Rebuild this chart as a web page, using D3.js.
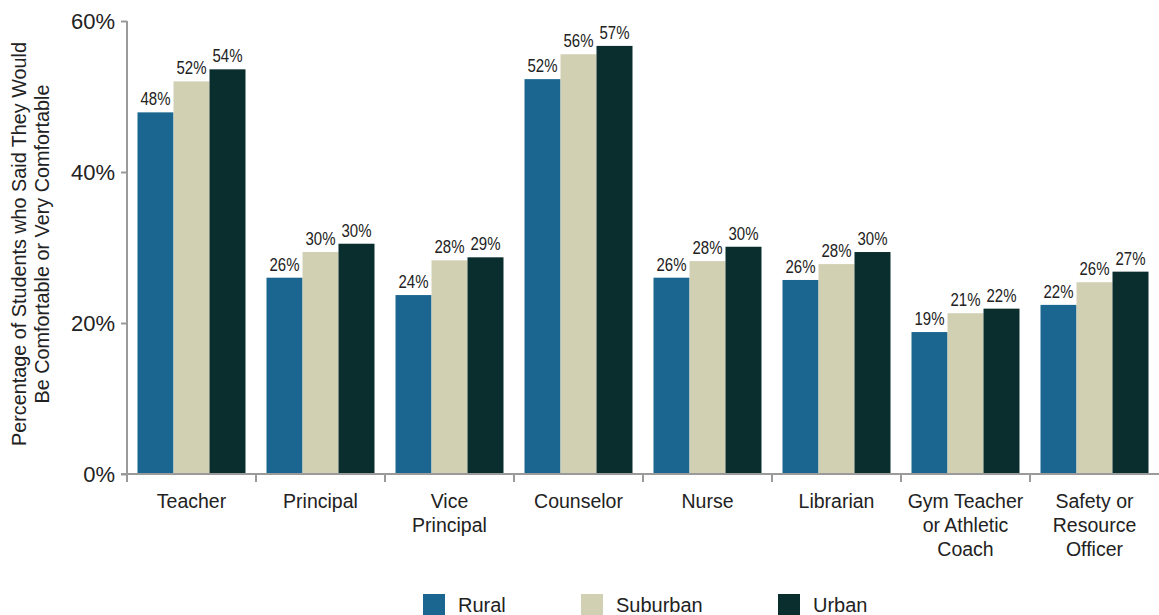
<!DOCTYPE html>
<html><head><meta charset="utf-8">
<script src="https://cdn.jsdelivr.net/npm/d3@7"></script>
<style>body{margin:0;background:#fff;}svg{display:block;}</style>
</head><body><svg id="c" width="1159" height="615"></svg>
<script>
const categories = [["Teacher"],["Principal"],["Vice","Principal"],["Counselor"],["Nurse"],["Librarian"],["Gym Teacher","or Athletic","Coach"],["Safety or","Resource","Officer"]];
const seriesNames = ["Rural","Suburban","Urban"];
const rural    = [48,26,24,52,26,26,19,22];
const suburban = [52,30,28,56,28,28,21,26];
const urban    = [54,30,29,57,30,30,22,27];
const ruralH    = [47.9,26.0,23.7,52.3,26.0,25.7,18.8,22.4];
const suburbanH = [52.0,29.4,28.3,55.6,28.2,27.8,21.3,25.4];
const urbanH    = [53.6,30.5,28.7,56.7,30.1,29.4,21.9,26.8];
const yTicks = [0,20,40,60];
const colors = ["#1b6690","#d1d0b3","#0a2e2e"];

const svg = d3.select("#c");
const x0 = d3.scaleBand().domain(d3.range(categories.length)).range([127,1159]).padding(0);
const x1 = d3.scaleBand().domain(seriesNames).range([10.5, x0.bandwidth()-10.5]).padding(0);
const y = d3.scaleLinear().domain([0,60]).range([474,21]);

const heights = [ruralH, suburbanH, urbanH];
const labels = [rural, suburban, urban];

// bars
seriesNames.forEach((s,si)=>{
  const g = svg.append("g");
  categories.forEach((c,ci)=>{
    const bx = x0(ci)+x1(s);
    g.append("rect").attr("x",bx).attr("y",y(heights[si][ci]))
      .attr("width",x1.bandwidth()).attr("height",y(0)-y(heights[si][ci]))
      .attr("fill",colors[si]);
    g.append("text")
      .attr("transform",`translate(${bx+x1.bandwidth()/2},${y(heights[si][ci])-7}) scale(0.81,1)`)
      .attr("text-anchor","middle").attr("font-family","'Liberation Sans',sans-serif")
      .attr("font-size",18.5).attr("fill","#222").text(labels[si][ci]+"%");
  });
});

// y axis
const yAxis = svg.append("g").attr("transform","translate(127,0)")
  .call(d3.axisLeft(y).tickValues(yTicks).tickFormat(d=>d+"%").tickSize(6).tickPadding(6));
yAxis.select(".domain").attr("stroke","#9a9a9a").attr("stroke-width",2).attr("d","M0,21V474");
yAxis.selectAll(".tick line").attr("stroke","#9a9a9a").attr("stroke-width",2);
yAxis.selectAll(".tick text").attr("font-family","'Liberation Sans',sans-serif").attr("font-size",22).attr("fill","#222").attr("dy","0.35em");

// x axis
const boundaries = d3.range(categories.length).map(i=>x0(i));
const xg = svg.append("g");
xg.append("line").attr("x1",121).attr("x2",1159).attr("y1",474).attr("y2",474).attr("stroke","#9a9a9a").attr("stroke-width",2);
xg.selectAll("line.t").data(boundaries).enter().append("line").attr("class","t")
  .attr("x1",d=>d).attr("x2",d=>d).attr("y1",474).attr("y2",482).attr("stroke","#9a9a9a").attr("stroke-width",2);
categories.forEach((c,ci)=>{
  const t = xg.append("text").attr("text-anchor","middle")
    .attr("font-family","'Liberation Sans',sans-serif").attr("font-size",19.5).attr("fill","#222");
  c.forEach((line,li)=>{
    t.append("tspan").attr("x",x0(ci)+x0.bandwidth()/2).attr("y",508+li*24).text(line);
  });
});

// y title
const yt = svg.append("text").attr("transform","translate(0,244) rotate(-90)")
  .attr("text-anchor","middle").attr("font-family","'Liberation Sans',sans-serif").attr("font-size",19.8).attr("fill","#222");
yt.append("tspan").attr("x",0).attr("y",26).text("Percentage of Students who Said They Would");
yt.append("tspan").attr("x",0).attr("y",49).text("Be Comfortable or Very Comfortable");

// legend
const legX = [423,581,778];
seriesNames.forEach((s,i)=>{
  svg.append("rect").attr("x",legX[i]).attr("y",594).attr("width",22).attr("height",22).attr("fill",colors[i]);
  svg.append("text").attr("x",legX[i]+35).attr("y",612).attr("font-family","'Liberation Sans',sans-serif")
    .attr("font-size",20).attr("fill","#222").text(s);
});
</script></body></html>
